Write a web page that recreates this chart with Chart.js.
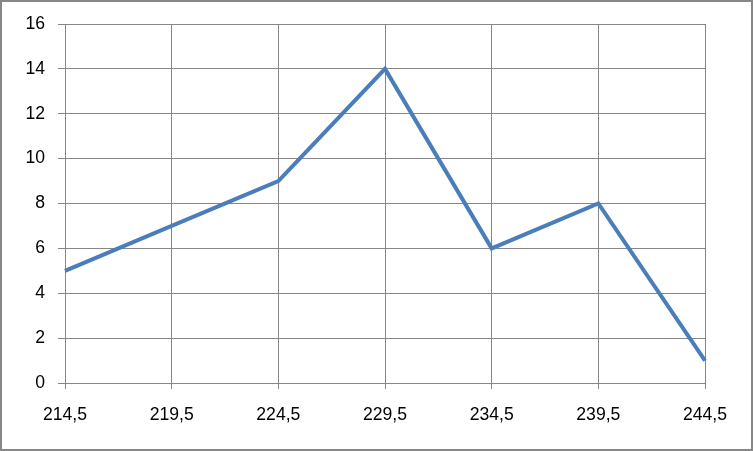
<!DOCTYPE html>
<html>
<head>
<meta charset="utf-8">
<script src="https://cdn.jsdelivr.net/npm/chart.js@4"></script>
<style>
  html, body { margin: 0; padding: 0; background: #fff; }
  #wrap { position: relative; width: 753px; height: 451px; }
  #frame { position: absolute; left: 0; top: 0; width: 749px; height: 447px; border: 2px solid #878787; pointer-events: none; }
</style>
</head>
<body>
<div id="wrap">
  <canvas id="chart" width="753" height="451"></canvas>
  <div id="frame"></div>
</div>
<script>
// categories and values
const categories = ["214,5", "219,5", "224,5", "229,5", "234,5", "239,5", "244,5"]
const values = [5, 7, 9, 14, 6, 8, 1]
const yTicks = [0, 2, 4, 6, 8, 10, 12, 14, 16]

const gridColor = "#868686"
const labelFont = { family: "Liberation Sans", size: 17.6 }

new Chart(document.getElementById("chart"), {
  type: "line",
  data: {
    labels: categories,
    datasets: [{
      data: values,
      borderColor: "#4A7EBB",
      borderWidth: 4,
      pointRadius: 0,
      tension: 0,
      fill: false
    }]
  },
  options: {
    responsive: false,
    animation: false,
    layout: { padding: { left: 0, top: 24, right: 48, bottom: 0 } },
    plugins: { legend: { display: false }, tooltip: { enabled: false } },
    scales: {
      x: {
        offset: false,
        grid: { color: gridColor, lineWidth: 1, tickLength: 6 },
        border: { color: gridColor },
        ticks: { color: "#000", font: labelFont, padding: 16, maxRotation: 0, autoSkip: false },
        afterFit: (scale) => { scale.height = 68 }
      },
      y: {
        min: 0,
        max: 16,
        afterBuildTicks: (scale) => { scale.ticks = yTicks.map((v) => ({ value: v })) },
        grid: { color: gridColor, lineWidth: 1, tickLength: 7 },
        border: { color: gridColor },
        ticks: { color: "#000", font: labelFont, padding: 13 },
        afterFit: (scale) => { scale.width = 65 }
      }
    }
  }
})
</script>
</body>
</html>
